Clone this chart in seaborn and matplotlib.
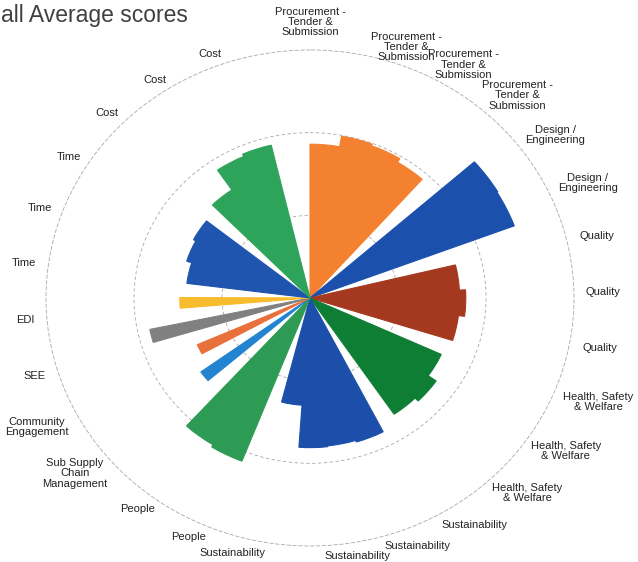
import numpy as np
import matplotlib
matplotlib.use('Agg')
import matplotlib.pyplot as plt
import seaborn as sns

# average scores per theme (one value per sub-question)
groups = ['Procurement - Tender & Submission', 'Design / Engineering', 'Quality',
          'Health, Safety & Welfare', 'Sustainability', 'People',
          'Sub Supply Chain Management', 'Community Engagement', 'SEE', 'EDI',
          'Time', 'Cost']
procurement = [1.86, 1.99, 1.97, 1.92]
design = [2.49, 2.48]
quality = [1.70, 1.77, 1.70]
hsw = [1.64, 1.75, 1.70]
sustainability = [1.82, 1.80, 1.81, 1.30]
people = [2.12, 2.09]
sscm = [1.53]
community = [1.40]
see = [1.86]
edi = [1.48]
time_scores = [1.41, 1.47, 1.50]
cost = [1.58, 1.87, 1.90]

axis_labels = (['Procurement -\nTender &\nSubmission'] * 4
               + ['Design /\nEngineering'] * 2
               + ['Quality'] * 3
               + ['Health, Safety\n& Welfare'] * 3
               + ['Sustainability'] * 4
               + ['People'] * 2
               + ['Sub Supply\nChain\nManagement', 'Community\nEngagement', 'SEE', 'EDI']
               + ['Time'] * 3
               + ['Cost'] * 3)

colors = ['#F4812F', '#1C50AD', '#A5391F', '#0E7E35', '#1C4FAA', '#2E9B55',
          '#2283D0', '#E8703A', '#808080', '#F8BC2E', '#1F55AE', '#2EA35A']

# where the category labels sit round the chart (degrees clockwise, radius in px)
label_deg = [0, 19.9, 31.7, 43.8, 54.7, 66.2, 77, 88.7, 100.4, 111, 122.5, 133.7,
             145.7, 157.8, 170.1, 196, 205.6, 217.6, 231.6, 243.3, 253.2, 265.3,
             277.4, 289.5, 301.8, 314.1, 326.3, 338.9]
label_px = [276, 267, 274, 281, 282, 285, 277, 275, 277, 290, 285, 282, 275, 268,
            262, 265, 265, 266, 282, 287, 270, 268, 271, 269, 267, 266, 262, 261]

sns.set_theme(style='white')
plt.rcParams['font.family'] = ['Liberation Sans', 'DejaVu Sans']

fig = plt.figure(figsize=(6.38, 5.62), dpi=100)
ax = fig.add_axes([0.0721, 0.0285, 0.8276, 0.8826], projection='polar')
ax.set_aspect('auto')
ax.set_theta_zero_location('N')
ax.set_theta_direction(-1)

data = [procurement, design, quality, hsw, sustainability, people,
        sscm, community, see, edi, time_scores, cost]
slot = np.deg2rad(10.4)
single = np.deg2rad(5.0)
gap = np.deg2rad(7.0)
theta = 0.0
for vals, color in zip(data, colors):
    w = single if len(vals) == 1 else slot
    lefts = theta + w * np.arange(len(vals))
    ax.bar(lefts, vals, width=w, align='edge', color=color,
           edgecolor=color, linewidth=0.8, zorder=3)
    theta += w * len(vals) + gap

ax.set_ylim(0, 3)
ax.set_yticks([1, 2])
ax.set_yticklabels([])
ax.set_xticks([])
ax.set_axisbelow(True)
ax.yaxis.grid(True, linestyle=(0, (4, 3)), color='#a8a8a8', linewidth=0.6)
ax.xaxis.grid(False)
ax.spines['polar'].set_linestyle((0, (4, 3)))
ax.spines['polar'].set_color('#a8a8a8')
ax.spines['polar'].set_linewidth(0.6)

unit = 248 / 3
for lab, d, r in zip(axis_labels, label_deg, label_px):
    ax.text(np.deg2rad(d), r / unit, lab, ha='center', va='center', fontsize=8,
            linespacing=1.05, color='#222222', clip_on=False)

fig.text(0.002, 0.961, 'all Average scores', fontsize=16.5,
         color='#404040', ha='left', va='baseline')

fig.savefig('out.png', dpi=100, facecolor='white')
